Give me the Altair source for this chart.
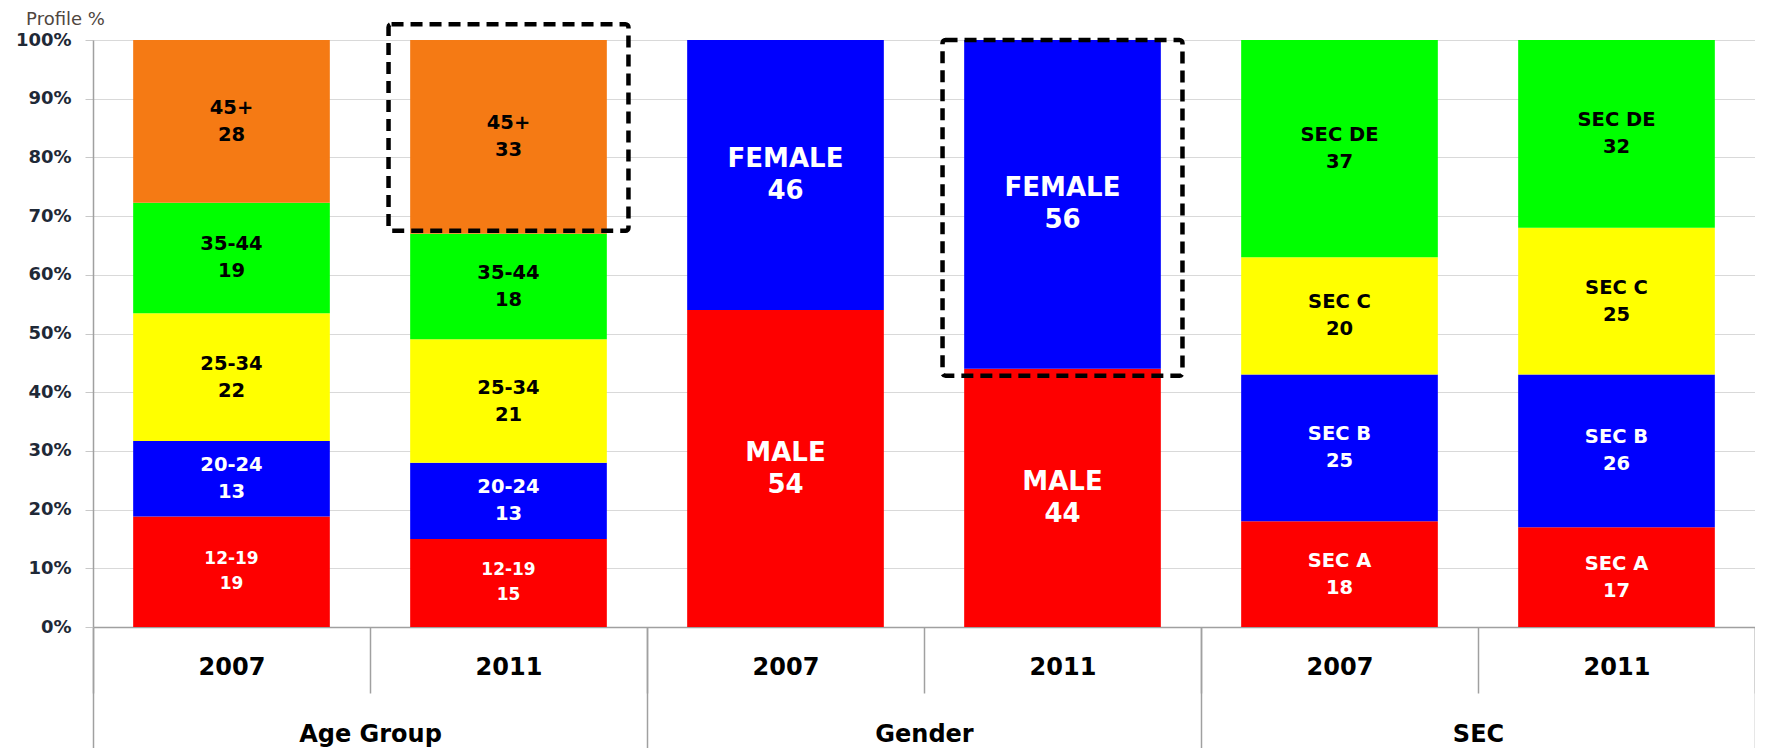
import altair as alt
import pandas as pd

groups = ["Age Group", "Gender", "SEC"]
years = ["2007", "2011"]

age_segments = ["12-19", "20-24", "25-34", "35-44", "45+"]
age_2007 = [19, 13, 22, 19, 28]
age_2011 = [15, 13, 21, 18, 33]

gender_segments = ["MALE", "FEMALE"]
gender_2007 = [54, 46]
gender_2011 = [44, 56]

sec_segments = ["SEC A", "SEC B", "SEC C", "SEC DE"]
sec_2007 = [18, 25, 20, 37]
sec_2011 = [17, 26, 25, 32]

seg_colors = ["#FE0000", "#0000FE", "#FFFF00", "#00FF00", "#F57A14"]
y_ticks = [0, 0.1, 0.2, 0.3, 0.4, 0.5, 0.6, 0.7, 0.8, 0.9, 1.0]

# highlighted (dashed) boxes
box_keys = ["Age Group|2011", "Gender|2011"]
box_top = [1.027, 1.0]
box_bottom = [0.675, 0.428]

rows = []
for g, segs, v07, v11 in [
    ("Age Group", age_segments, age_2007, age_2011),
    ("Gender", gender_segments, gender_2007, gender_2011),
    ("SEC", sec_segments, sec_2007, sec_2011),
]:
    for yr, vals in zip(years, [v07, v11]):
        for r, (s, v) in enumerate(zip(segs, vals)):
            rows.append(dict(group=g, year=yr, key=f"{g}|{yr}", seg=s, rank=r, value=v))
df = pd.DataFrame(rows)
keys = [f"{g}|{y}" for g in groups for y in years]
box_df = pd.DataFrame({"key": box_keys, "top": box_top, "bottom": box_bottom})
grp_df = pd.DataFrame({"group": groups})

W, H = 1662, 587
FONT = "DejaVu Sans"
BAR_FRAC = 0.71

xscale = alt.Scale(domain=keys, paddingInner=0, paddingOuter=0)
yscale = alt.Scale(domain=[0, 1], nice=False)

x_axis = alt.Axis(
    title=None, orient="bottom",
    labelExpr="datum.label ? split(datum.label, '|')[1] : ''",
    tickBand="extent", tickSize=66, tickColor="#a0a0a0", tickWidth=1.5,
    domainColor="#a0a0a0", domainWidth=1.5,
    labelPadding=-26, labelBaseline="middle", labelFontSize=24,
    labelFontWeight="bold", labelColor="black", labelAngle=0, labelFont=FONT,
    grid=False,
)
y_axis = alt.Axis(
    title="Profile %", titleAngle=0, titleX=-28, titleY=-30, titleAlign="center",
    titleBaseline="top", titleFontSize=18, titleFontWeight="normal",
    titleColor="#4f4640", titleFont=FONT,
    values=y_ticks, format=".0%", labelFontSize=18, labelFontWeight="bold",
    labelColor="#1f2937", labelPadding=14, labelFont=FONT,
    tickSize=8, tickColor="#c8c8c8", gridColor="#d9d9d9",
    domainColor="#a0a0a0", domainWidth=1.5,
)

base = alt.Chart(df).transform_stack(
    stack="value", as_=["y0", "y1"], groupby=["key"],
    sort=[alt.SortField("rank", order="ascending")], offset="normalize",
).transform_calculate(
    mid="(datum.y0 + datum.y1) / 2",
    label="datum.seg + '\\n' + datum.value",
)

bars = base.mark_bar(width=alt.RelativeBandSize(BAR_FRAC)).encode(
    x=alt.X("key:N", scale=xscale, axis=x_axis),
    y=alt.Y("y0:Q", scale=yscale, axis=y_axis),
    y2="y1:Q",
    color=alt.Color("rank:O", scale=alt.Scale(domain=[0, 1, 2, 3, 4], range=seg_colors), legend=None),
)

def text_layer(filt, size, lh):
    return base.transform_filter(filt).mark_text(
        font=FONT, fontWeight="bold", fontSize=size, lineHeight=lh,
        lineBreak="\n", align="center", baseline="middle", dy=-lh / 2,
    ).encode(
        x=alt.X("key:N", scale=xscale, axis=x_axis),
        y=alt.Y("mid:Q", scale=yscale, axis=y_axis),
        text="label:N",
        color=alt.condition("datum.rank < 2", alt.value("white"), alt.value("black")),
    )

t_gender = text_layer("datum.group == 'Gender'", 26, 32)
t_small = text_layer("datum.seg == '12-19'", 17, 25)
t_other = text_layer("datum.group != 'Gender' && datum.seg != '12-19'", 19.5, 27)

boxes = alt.Chart(box_df).mark_bar(
    filled=False, stroke="black", strokeWidth=4.5, strokeDash=[12, 7],
    width=alt.RelativeBandSize(BAR_FRAC * 1.22), cornerRadius=3,
).encode(
    x=alt.X("key:N", scale=xscale, axis=x_axis),
    y=alt.Y("bottom:Q", scale=yscale, axis=y_axis),
    y2="top:Q",
)

inner = alt.layer(bars, t_gender, t_small, t_other, boxes)

grp = alt.Chart(grp_df).mark_point(opacity=0).encode(
    x=alt.X(
        "group:N",
        scale=alt.Scale(domain=groups, paddingInner=0, paddingOuter=0),
        axis=alt.Axis(
            title=None, orient="bottom", tickBand="extent", tickSize=121,
            domain=False, labelPadding=-14, labelBaseline="middle",
            labelFontSize=24, labelFontWeight="bold", labelColor="black",
            labelAngle=0, labelFont=FONT, tickColor="#a0a0a0", tickWidth=1.5, grid=False,
        ),
    ),
)

chart = alt.layer(inner, grp).resolve_scale(x="independent").properties(
    width=W, height=H,
    autosize=alt.AutoSizeParams(type="none"),
    padding={"left": 85, "top": 32, "right": 0, "bottom": 121},
).configure_view(stroke=None).configure(font=FONT)

chart.save("out.html", embed_options={"renderer": "svg", "actions": False})
